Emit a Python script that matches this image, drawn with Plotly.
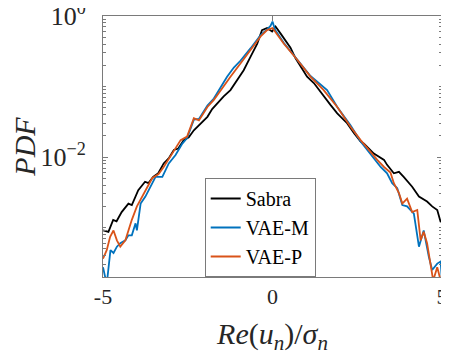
import plotly.graph_objects as go

# PDF of Re(u_n)/sigma_n

sabra_x = [-5.00, -4.84, -4.70, -4.60, -4.45, -4.25, -4.15, -3.96, -3.76, -3.66,
           -3.52, -3.37, -3.21, -3.05, -2.91, -2.78, -2.62, -2.47, -2.32, -2.12,
           -1.92, -1.78, -1.63, -1.44, -1.24, -1.04, -0.85, -0.65, -0.45, -0.31,
           -0.16, -0.01, 0.09, 0.24, 0.53, 0.68, 0.83, 1.02, 1.22, 1.51,
           1.71, 1.91, 2.20, 2.40, 2.60, 2.70, 2.99, 3.29, 3.38, 3.58,
           3.73, 3.87, 4.12, 4.32, 4.56, 4.71, 4.86, 4.96, 5.00]
sabra_pdf = [9.12e-4, 8.71e-4, 1.29e-3, 1.23e-3, 1.66e-3, 2.19e-3, 2.09e-3, 3.39e-3, 4.47e-3, 4.27e-3,
             5.25e-3, 5.89e-3, 8.13e-3, 9.77e-3, 0.0126, 0.0132, 0.0174, 0.0191, 0.0240, 0.0302,
             0.0372, 0.0479, 0.0575, 0.0724, 0.0891, 0.123, 0.170, 0.263, 0.407, 0.631,
             0.676, 0.603, 0.708, 0.562, 0.355, 0.251, 0.191, 0.138, 0.112, 0.0724,
             0.0550, 0.0417, 0.0302, 0.0219, 0.0166, 0.0155, 0.0112, 9.12e-3, 7.76e-3, 5.89e-3,
             6.17e-3, 5.25e-3, 3.80e-3, 2.75e-3, 2.34e-3, 2.00e-3, 1.78e-3, 1.20e-3, 1.29e-3]

vaem_x = [-5.00, -4.89, -4.78, -4.69, -4.59, -4.49, -4.34, -4.25, -4.15, -4.04,
          -4.00, -3.89, -3.75, -3.60, -3.45, -3.25, -3.06, -2.86, -2.66, -2.52,
          -2.32, -2.17, -1.92, -1.73, -1.53, -1.34, -1.14, -0.94, -0.65, -0.35,
          -0.16, -0.06, 0.00, 0.08, 0.33, 0.73, 1.12, 1.32, 1.61, 1.91,
          2.30, 2.60, 2.89, 3.19, 3.38, 3.53, 3.68, 3.83, 3.97, 4.17,
          4.32, 4.46, 4.61, 4.71, 4.86, 4.96, 5.00]
vaem_pdf = [2.75e-4, 1.58e-4, 4.79e-4, 4.37e-4, 5.37e-4, 6.03e-4, 6.61e-4, 7.76e-4, 7.76e-4, 1.15e-3,
            9.12e-4, 2.19e-3, 2.75e-3, 3.80e-3, 5.25e-3, 5.25e-3, 8.13e-3, 0.0107, 0.0155, 0.0186,
            0.0339, 0.0347, 0.0537, 0.0676, 0.0955, 0.138, 0.186, 0.234, 0.347, 0.537,
            0.646, 0.724, 0.832, 0.631, 0.417, 0.245, 0.141, 0.117, 0.0891, 0.0513,
            0.0282, 0.0166, 0.0112, 7.24e-3, 5.89e-3, 4.27e-3, 3.63e-3, 2.09e-3, 2.00e-3, 1.58e-3,
            5.37e-4, 9.12e-4, 3.89e-4, 2.51e-4, 3.09e-4, 3.31e-4, 1.78e-4]

vaep_x = [-5.00, -4.89, -4.79, -4.69, -4.59, -4.49, -4.34, -4.25, -4.15, -4.00,
          -3.85, -3.70, -3.55, -3.36, -3.21, -2.96, -2.71, -2.52, -2.32, -2.17,
          -1.92, -1.73, -1.53, -1.24, -0.94, -0.65, -0.35, -0.16, 0.00, 0.33,
          0.73, 1.12, 1.51, 1.91, 2.30, 2.60, 2.89, 3.09, 3.29, 3.48,
          3.58, 3.73, 3.83, 3.97, 4.12, 4.27, 4.37, 4.46, 4.56, 4.66,
          4.74, 4.86, 4.96]
vaep_pdf = [3.63e-4, 4.79e-4, 7.41e-4, 9.12e-4, 6.61e-4, 5.37e-4, 6.61e-4, 9.12e-4, 1.29e-3, 2.00e-3,
            2.75e-3, 3.80e-3, 5.01e-3, 5.75e-3, 7.24e-3, 0.0112, 0.0174, 0.0195, 0.0355, 0.0331,
            0.0513, 0.0646, 0.0891, 0.138, 0.214, 0.331, 0.513, 0.631, 0.676, 0.407,
            0.240, 0.138, 0.0891, 0.0513, 0.0269, 0.0174, 0.0117, 9.12e-3, 7.24e-3, 6.03e-3,
            4.27e-3, 3.09e-3, 2.19e-3, 2.57e-3, 1.66e-3, 1.78e-3, 6.61e-4, 8.71e-4, 6.03e-4, 2.75e-4,
            1.78e-4, 2.75e-4, 1.78e-4]

x_ticks = [-5, 0, 5]
x_ticktext = ['-5', '0', '5']
y_ticks = [1, 1e-2, 1e-4]
y_ticktext = ['10<sup>0</sup>', '10<sup>\u22122</sup>', '10<sup>\u22124</sup>']

FONT = '"Liberation Serif", "Times New Roman", Times, serif'
AXCOL = '#7a7a7a'
TXT = '#262626'

fig = go.Figure()
fig.add_trace(go.Scatter(x=sabra_x, y=sabra_pdf, mode='lines', name='Sabra',
                         line=dict(color='#000000', width=1.8)))
fig.add_trace(go.Scatter(x=vaem_x, y=vaem_pdf, mode='lines', name='VAE-M',
                         line=dict(color='#0072BD', width=1.8)))
fig.add_trace(go.Scatter(x=vaep_x, y=vaep_pdf, mode='lines', name='VAE-P',
                         line=dict(color='#D95319', width=1.8)))

# the page body adds an 8px offset, so the figure is 8px smaller each way
fig.update_layout(
    width=441, height=349,
    margin=dict(l=95, r=7, t=8, b=80),
    paper_bgcolor='white', plot_bgcolor='white',
    font=dict(family=FONT, color=TXT),
    showlegend=True,
    legend=dict(
        x=0.30, y=0, xanchor='left', yanchor='bottom',
        bgcolor='white', bordercolor=AXCOL, borderwidth=1,
        font=dict(family=FONT, size=20, color='#000000'),
        tracegroupgap=0, itemwidth=30,
    ),
    xaxis=dict(
        range=[-5, 5], tickmode='array', tickvals=x_ticks, ticktext=x_ticktext,
        ticks='inside', ticklen=5, tickcolor=AXCOL, showgrid=False, zeroline=False,
        showline=True, linecolor=AXCOL, linewidth=1, mirror='ticks',
        tickfont=dict(family=FONT, size=22, color=TXT), ticklabeloverflow='allow',
        automargin=False,
        title=dict(text='<i>Re</i>(<i>u<sub>n</sub></i>)/<i>\u03c3<sub>n</sub></i>',
                   font=dict(family=FONT, size=30, color=TXT), standoff=14),
    ),
    yaxis=dict(
        type='log', range=[-3.70, 0], tickmode='array', tickvals=y_ticks, ticktext=y_ticktext,
        ticks='inside', ticklen=5, tickcolor=AXCOL, showgrid=False, zeroline=False,
        showline=True, linecolor=AXCOL, linewidth=1, mirror='ticks',
        tickfont=dict(family=FONT, size=26, color=TXT), ticklabelstandoff=11,
        ticklabeloverflow='allow', automargin=False,
        minor=dict(ticks='inside', ticklen=3, tickcolor=AXCOL, dtick='D1', showgrid=False),
        title=dict(text='<i>PDF</i>', font=dict(family=FONT, size=30, color=TXT), standoff=4),
    ),
)

fig.write_html("out.html")
